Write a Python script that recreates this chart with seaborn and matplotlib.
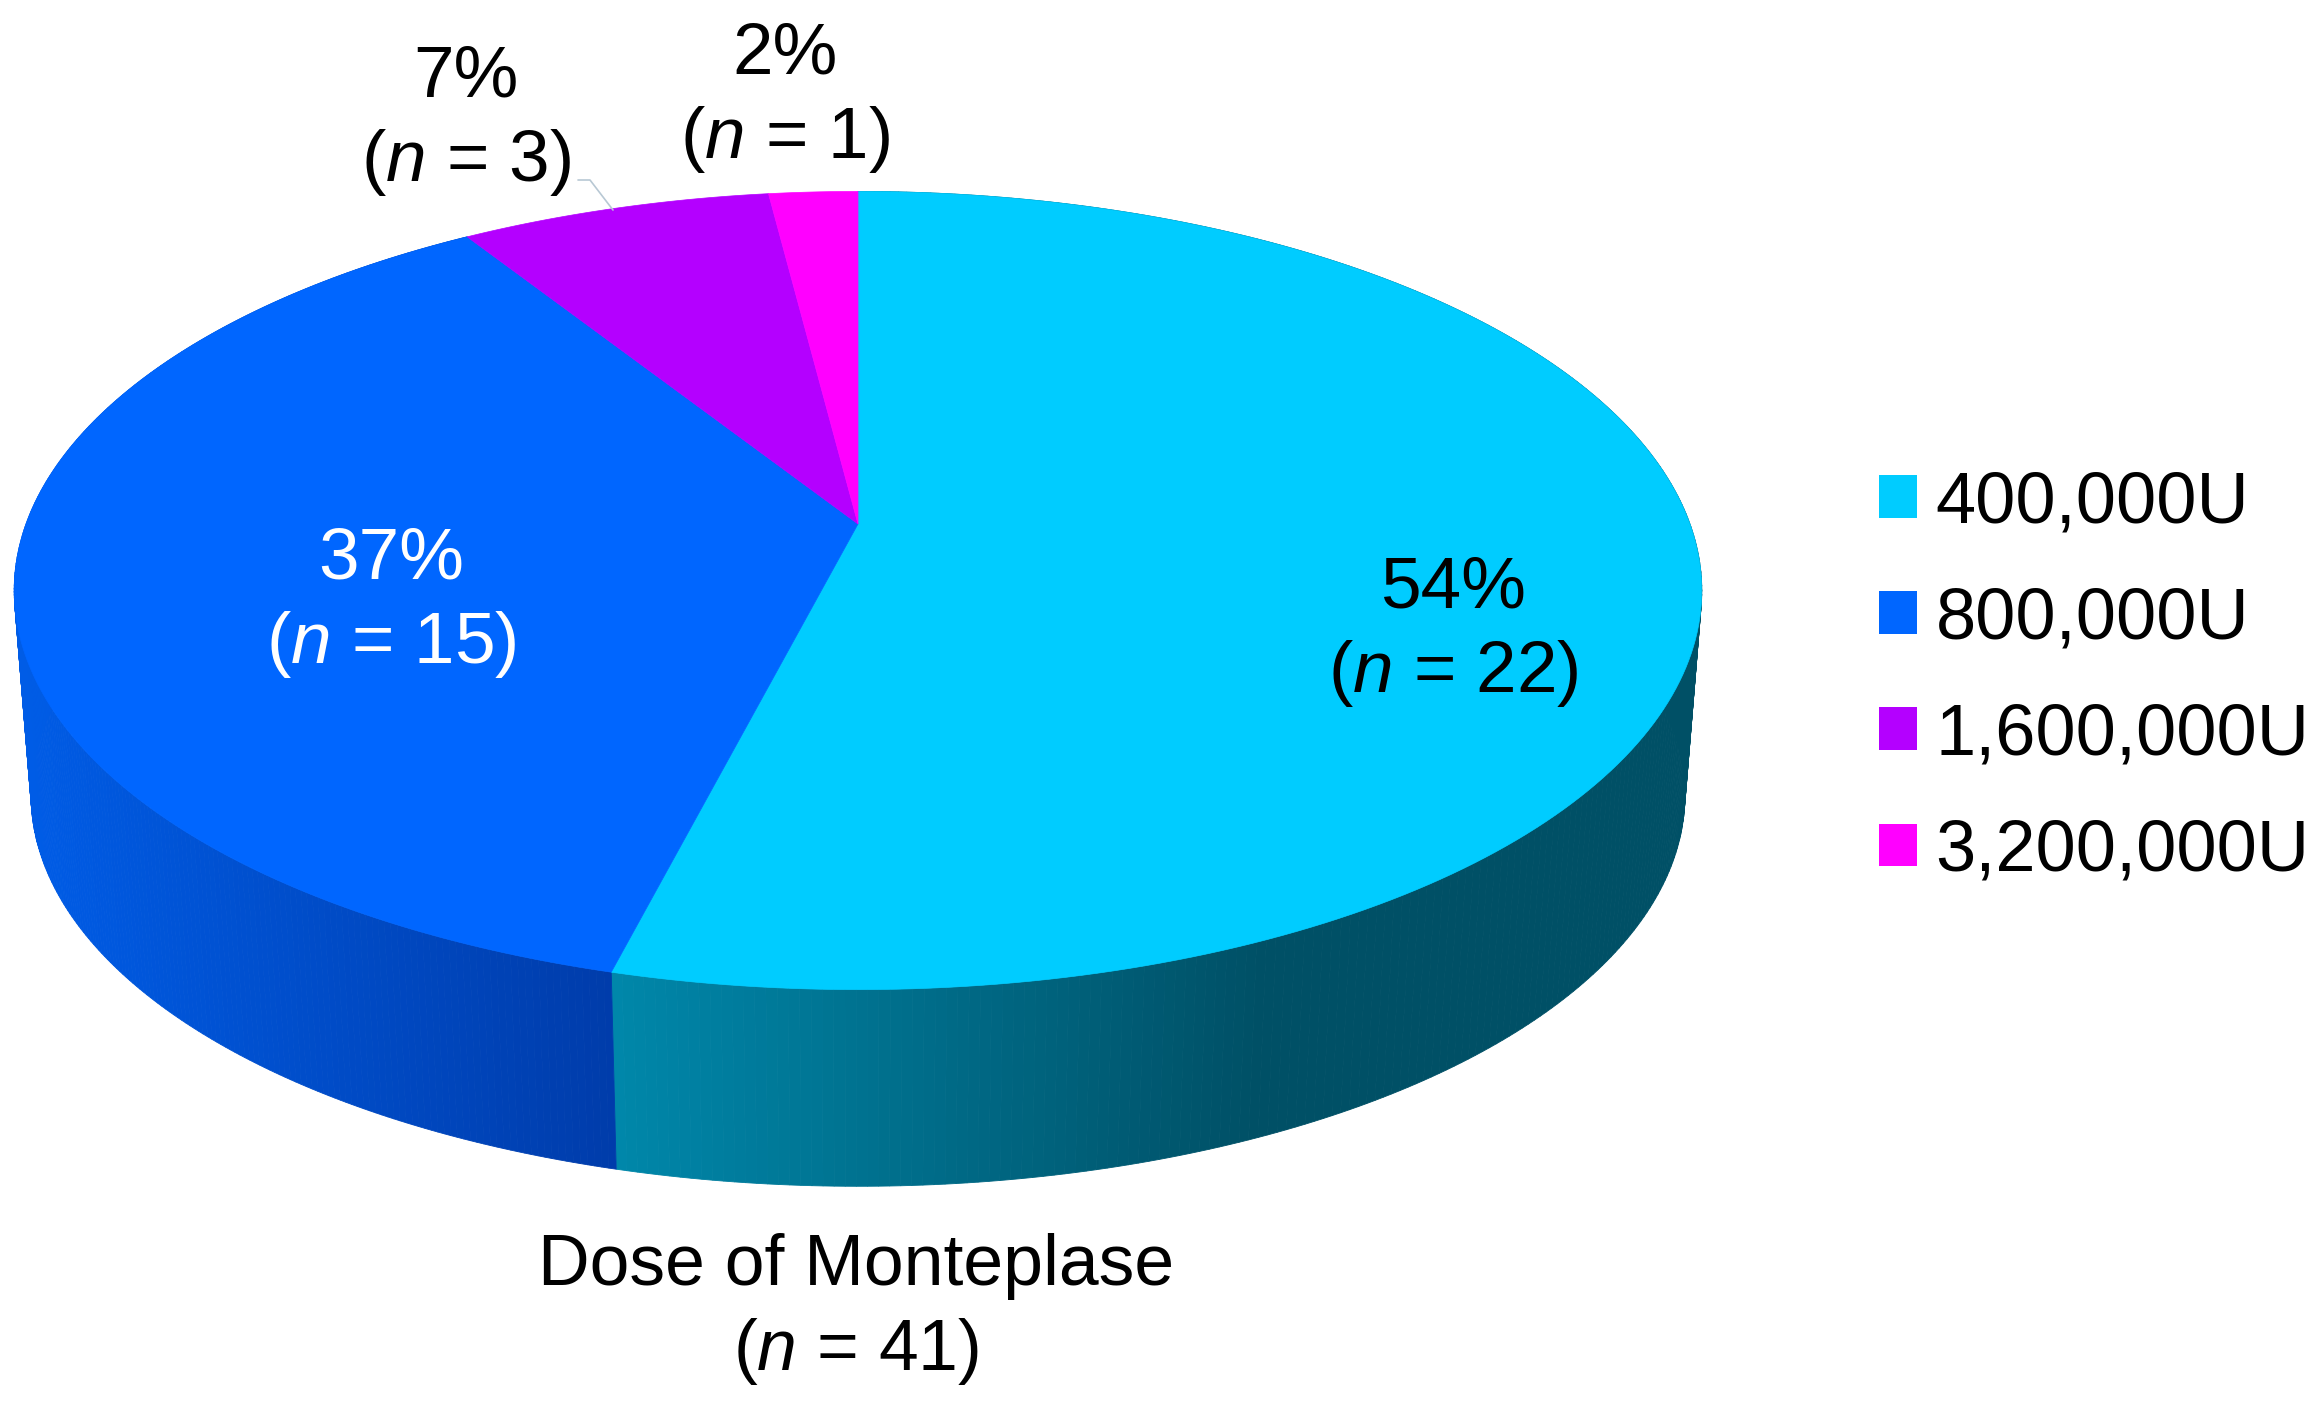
import numpy as np
import seaborn as sns
import matplotlib.pyplot as plt
from matplotlib.patches import Patch

doses = ["400,000U", "800,000U", "1,600,000U", "3,200,000U"]
counts = [22, 15, 3, 1]
percents = [54, 37, 7, 2]
hex_colors = ["#00CCFF", "#0066FF", "#B400FF", "#FF00FF"]

# screen layout of the tilted disc, in pixels of the output
cx, cy = 858, 524
rx, ry = 832, 388
persp = 1 / 6
depth = 206
shrink = 0.98


def rim(theta, scale=1.0, drop=0.0):
    # perspective of a flat circle, theta clockwise from the top
    d = 1 + persp * np.cos(theta)
    return (cx + scale * rx * np.sin(theta) / d,
            cy + scale * ry * np.cos(theta) * -1 / d + drop)


def side_color(name, x):
    # shading of the side wall goes with the screen x
    if name == "400,000U":
        return (0, np.interp(x, [613, 1260], [135, 80]) / 255,
                np.interp(x, [613, 1260], [170, 102]) / 255)
    return (0, np.interp(x, [20, 613], [92, 60]) / 255,
            np.interp(x, [20, 613], [230, 170]) / 255)


sns.set_theme(style="white")
plt.rcParams["font.family"] = ["Liberation Sans"]
plt.rcParams["mathtext.fontset"] = "custom"
plt.rcParams["mathtext.rm"] = "Liberation Sans"
plt.rcParams["mathtext.it"] = "Liberation Sans:italic"
palette = sns.color_palette(hex_colors)

fig = plt.figure(figsize=(23.16, 14.16), dpi=100)
ax = fig.add_axes([0, 0, 1, 1])
ax.set_xlim(0, 2316)
ax.set_ylim(1416, 0)
ax.axis("off")

# the slices follow the rounded percents
edges = np.cumsum([0] + percents) / sum(percents) * 2 * np.pi

# side wall first, the top covers what is not visible
for i, name in enumerate(doses[:2]):
    thetas = np.linspace(edges[i], edges[i + 1], 300)
    for t0, t1 in zip(thetas[:-1], thetas[1:]):
        x0, y0 = rim(t0)
        x1, y1 = rim(t1)
        x2, y2 = rim(t1, shrink, depth)
        x3, y3 = rim(t0, shrink, depth)
        c = side_color(name, (x0 + x1) / 2)
        ax.fill([x0, x1, x2, x3], [y0, y1, y2, y3], color=c, lw=0.6)

# top of the pie
for i, name in enumerate(doses):
    thetas = np.linspace(edges[i], edges[i + 1], 200)
    xs, ys = rim(thetas)
    ax.fill(np.r_[cx, xs], np.r_[cy, ys], color=palette[i], lw=0.5)

# labels
label_pos = [(1453, 632), (391, 603), (466, 121), (785, 98)]
label_col = ["black", "white", "black", "black"]
for i in range(len(doses)):
    ax.text(label_pos[i][0], label_pos[i][1],
            "%d%%\n($\\mathit{n}$ = %d)" % (percents[i], counts[i]),
            ha="center", va="center", fontsize=52.5, linespacing=1.28,
            color=label_col[i])

ax.plot([578, 590, 613], [180, 180, 210], color="#B8C8D4", lw=1.2)

ax.text(856, 1310, "Dose of Monteplase\n($\\mathit{n}$ = %d)" % sum(counts),
        ha="center", va="center", fontsize=51.5, linespacing=1.28, color="black")

handles = [Patch(facecolor=palette[i], edgecolor="none", label=doses[i])
           for i in range(len(doses))]
ax.legend(handles=handles, loc="upper left", bbox_to_anchor=(1879 / 2316, 1 - 470 / 1416),
          frameon=False, fontsize=52, handlelength=0.525, handleheight=0.525,
          handletextpad=0.26, labelspacing=0.68, borderpad=0, borderaxespad=0,
          labelcolor="black")

fig.savefig("out.png", dpi=100)
